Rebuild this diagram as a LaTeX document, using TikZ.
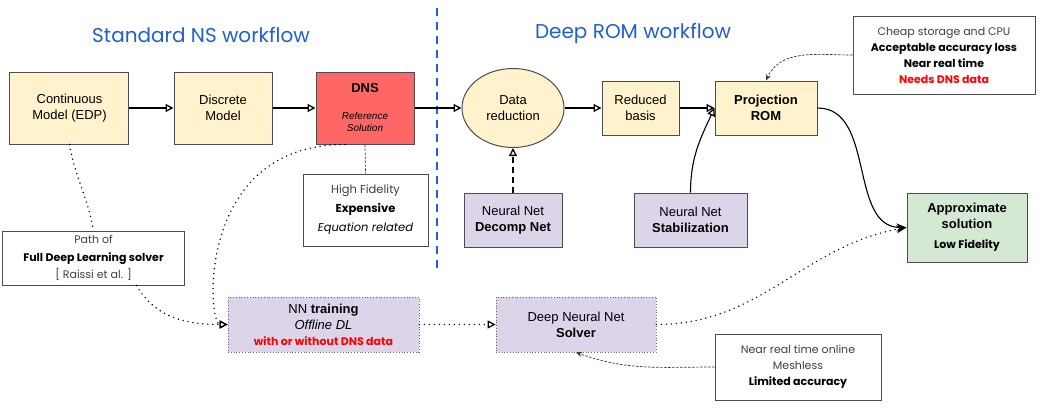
\documentclass[tikz,border=0pt]{standalone}
\usepackage{fontspec}
\setmainfont{Liberation Sans}
\newfontfamily\hand{Poppins}
\usetikzlibrary{shapes.geometric, arrows.meta, positioning}
\definecolor{boxYellow}{HTML}{FFF2CC}
\definecolor{dnsRed}{HTML}{FF6666}
\definecolor{nnPurple}{HTML}{DCD4E8}
\definecolor{solGreen}{HTML}{D5E8D4}
\definecolor{titleBlue}{HTML}{1F5FD0}
\newcommand{\refsmall}{\fontsize{10}{12}\selectfont\itshape}
\tikzstyle{recNode} = [rectangle, minimum width=98pt, minimum height=72pt, text centered, align=center, draw=black!70, line width=1pt, font=\fontsize{13}{16}\selectfont]
\tikzstyle{recNodeY} = [recNode, fill=boxYellow]
\tikzstyle{recNodeR} = [recNode, fill=dnsRed, font=\fontsize{13}{12}\selectfont]
\tikzstyle{recNodeP} = [recNode, fill=nnPurple, minimum height=54pt]
\tikzstyle{recNodeD} = [recNodeP, draw=black!60, line width=0.8pt, dotted]
\tikzstyle{recNodeG} = [recNode, fill=solGreen]
\tikzstyle{ellNode} = [ellipse, minimum width=102pt, minimum height=79pt, text centered, align=center, draw=black!70, line width=1pt, fill=boxYellow, font=\fontsize{13}{16}\selectfont]
\tikzstyle{noteNode} = [recNode, fill=white, font=\hand\fontsize{11}{16}\selectfont]
\tikzstyle{titleNode} = [text=titleBlue, font=\hand\fontsize{20}{22}\selectfont]
\tikzstyle{arrow} = [line width=1.1pt,-{Triangle[open,length=8pt,width=8pt,line width=1.3pt]},draw=black]
\tikzstyle{arrowS} = [line width=1.1pt,-{Stealth[length=10pt,width=8pt]},draw=black]
\tikzstyle{arrowDash} = [line width=1.1pt,-{Triangle[open,length=8pt,width=8pt,line width=1.3pt]},draw=black, dash pattern=on 6pt off 4pt]
\tikzstyle{arrowDot} = [line width=1.6pt,-{Triangle[open,length=8pt,width=8pt,line width=1.2pt]},draw=black, dash pattern=on 0pt off 5pt, line cap=round]
\tikzstyle{noteLink} = [line width=0.7pt,-{Stealth[length=6pt,width=5pt]},draw=black!80, dash pattern=on 2.5pt off 1.5pt]

\begin{document}
\begin{tikzpicture}[node distance=140pt]
    \useasboundingbox (-69.5pt,-302pt) rectangle (983.5pt,108pt);

    % standard workflow
    \node (cont) [recNodeY, minimum width=119pt] {Continuous\\Model (EDP)};
    \node (disc) [recNodeY, right of=cont, xshift=13.5pt] {Discrete\\Model};
    \node (dns) [recNodeR, right of=disc, xshift=2pt]
        {\textbf{DNS}\\[15pt]\refsmall Reference\\\refsmall Solution};
    \node (stdTitle) [titleNode, above of=disc, xshift=-22pt, yshift=-67pt] {Standard NS workflow};

    % deep ROM workflow
    \node (red) [ellNode, right of=dns, xshift=8pt] {Data\\reduction};
    \node (basis) [recNodeY, right of=red, xshift=-12.5pt, minimum width=77pt, minimum height=54pt] {Reduced\\basis};
    \node (proj) [recNodeY, right of=basis, xshift=-14.5pt, minimum width=102pt, minimum height=54pt] {\textbf{Projection}\\\textbf{ROM}};
    \node (romTitle) [titleNode, above of=basis, xshift=-7.5pt, yshift=-65pt] {Deep ROM workflow};
    \node (decomp) [recNodeP, below of=red, yshift=28pt] {Neural Net\\\textbf{Decomp Net}};
    \node (stab) [recNodeP, below of=basis, xshift=50pt, yshift=28pt, minimum width=113pt] {Neural Net\\\textbf{Stabilization}};
    \node (approx) [recNodeG, below of=proj, xshift=201pt, yshift=20.5pt, minimum width=120pt, minimum height=69pt]
        {\textbf{Approximate}\\\textbf{solution}\\[4pt]\hand\fontsize{11}{12}\selectfont\bfseries Low Fidelity};
    \node (cheap) [noteNode, right of=proj, xshift=38pt, yshift=53pt, minimum width=182pt, minimum height=78pt]
        {{\color{black!75}Cheap storage and CPU}\\\textbf{Acceptable accuracy loss}\\\textbf{Near real time}\\\textcolor{red}{\textbf{Needs DNS data}}};

    % notes and deep learning path
    \node (fidel) [noteNode, below of=dns, xshift=0.5pt, yshift=38pt, minimum width=125pt, font=\hand\fontsize{11.5}{19}\selectfont]
        {{\color{black!75}High Fidelity}\\\textbf{Expensive}\\\textit{Equation related}};
    \node (pathof) [noteNode, below of=cont, xshift=24pt, yshift=-10pt, minimum width=181pt, minimum height=54pt, font=\hand\fontsize{11}{17.5}\selectfont]
        {{\color{black!75}Path of}\\\textbf{Full Deep Learning solver}\\{\color{black!75}[ Raissi et al. ]}};
    \node (train) [recNodeD, below of=fidel, xshift=-42pt, yshift=25.5pt, minimum width=191pt, minimum height=55pt]
        {NN \textbf{training}\\\textit{Offline DL}\\\hand\fontsize{11}{16}\selectfont\bfseries\color{red}with or without DNS data};
    \node (solver) [recNodeD, right of=train, xshift=112.5pt, minimum width=160pt, minimum height=55pt]
        {Deep Neural Net\\\textbf{Solver}};
    \node (online) [noteNode, right of=solver, xshift=82pt, yshift=-42.5pt, minimum width=166pt, minimum height=66pt]
        {{\color{black!75}Near real time online}\\{\color{black!75}Meshless}\\\textbf{Limited accuracy}};

    \coordinate (sepTop) at (367.5pt,100pt);
    \coordinate (sepBot) at (367.5pt,-161pt);
    \draw [titleBlue, line width=2pt, dash pattern=on 8pt off 6pt] (sepTop) -- (sepBot);

    \draw [arrow] (cont) -- (disc);
    \draw [arrow] (disc) -- (dns);
    \draw [arrow] (dns) -- (red);
    \draw [arrow] (red) -- (basis);
    \draw [arrow] (basis) -- (proj);
    \draw [arrowDash] (decomp) -- (red);
    \draw [arrow] (stab.north) to[out=90, in=245] (proj.west);
    \draw [arrowS] (proj.east) to[out=0, in=180] (approx.west);
    \draw [noteLink] (cheap.west) to[out=180, in=65] (proj.north);
    \draw [line width=0.7pt, draw=black!80, dash pattern=on 2.5pt off 1.5pt] (dns.south) -- (fidel.north);

    \draw [arrowDot, -] (cont.south) to[out=-80, in=100] (pathof.north);
    \draw [arrowDot] ([xshift=43pt]pathof.south) to[out=-60, in=180] (train.west);
    \draw [arrowDot] ([xshift=-20pt]dns.south) .. controls +(-150pt,0pt) and +(-20pt,0pt) .. (train.west);
    \draw [arrowDot] (train) -- (solver);
    \draw [arrowDot, -{Stealth[length=10pt,width=8pt]}] (solver.east) to[out=0, in=190] (approx.west);
    \draw [noteLink] (online.west) to[out=180, in=-20] (solver.south);

\end{tikzpicture}
\end{document}
